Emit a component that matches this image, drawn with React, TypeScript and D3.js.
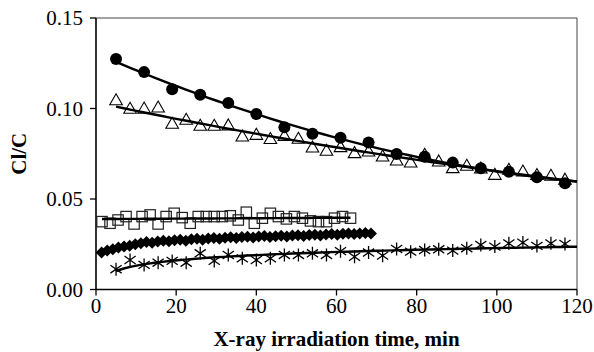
import React from "react";
import * as d3 from "d3";

const W = 594;
const H = 352;

const xTicks = [0, 20, 40, 60, 80, 100, 120];
const yTicks = [0, 0.05, 0.1, 0.15];

const circleT = [5, 12, 19, 26, 33, 40, 47, 54, 61, 68, 75, 82, 89, 96, 103, 110, 117];
const circleV = [0.1273, 0.1201, 0.1107, 0.1076, 0.103, 0.0969, 0.0897, 0.086, 0.0839, 0.0812, 0.0749, 0.0734, 0.0701, 0.067, 0.0651, 0.062, 0.0587];

const triT = [5, 8.5, 12, 15.5, 19, 22.5, 26, 29.5, 33, 36.5, 40, 43.5, 47, 50.5, 54, 57.5, 61, 64.5, 68, 71.5, 75, 78.5, 82, 85.5, 89, 92.5, 96, 99.5, 103, 106.5, 110, 113.5, 117];
const triV = [0.1045, 0.0998, 0.0999, 0.1005, 0.0915, 0.0937, 0.0904, 0.0904, 0.0906, 0.0845, 0.0854, 0.0831, 0.0848, 0.0832, 0.0784, 0.0766, 0.0786, 0.0753, 0.0762, 0.0734, 0.0712, 0.0701, 0.0744, 0.0707, 0.067, 0.0683, 0.0668, 0.0633, 0.0661, 0.0651, 0.0632, 0.0628, 0.0606];

const sqT = [1.5, 3.5, 5.5, 7.5, 9.5, 11.5, 13.5, 15.5, 17.5, 19.5, 21.5, 23.5, 25.5, 27.5, 29.5, 31.5, 33.5, 35.5, 37.5, 39.5, 41.5, 43.5, 45.5, 47.5, 49.5, 51.5, 53.5, 55.5, 57.5, 59.5, 61.5, 63.5];
const sqV = [0.0375, 0.0366, 0.0384, 0.0403, 0.0362, 0.0403, 0.0412, 0.0362, 0.0403, 0.0421, 0.0397, 0.0366, 0.0403, 0.0403, 0.0403, 0.0403, 0.0407, 0.0384, 0.0427, 0.0366, 0.0394, 0.0421, 0.0403, 0.039, 0.0403, 0.0394, 0.0379, 0.0375, 0.0375, 0.0394, 0.0403, 0.0394];

const diaT = [1.4, 2.8, 4.2, 5.6, 7.0, 8.4, 9.8, 11.2, 12.6, 14.0, 15.4, 16.8, 18.2, 19.6, 21.0, 22.4, 23.8, 25.2, 26.6, 28.0, 29.4, 30.8, 32.2, 33.6, 35.0, 36.4, 37.8, 39.2, 40.6, 42.0, 43.4, 44.8, 46.2, 47.6, 49.0, 50.4, 51.8, 53.2, 54.6, 56.0, 57.4, 58.8, 60.2, 61.6, 63.0, 64.4, 65.8, 67.2, 68.6];
const diaV = [0.0205, 0.0215, 0.0222, 0.0232, 0.0238, 0.0242, 0.025, 0.0256, 0.0262, 0.0258, 0.0265, 0.027, 0.0266, 0.0272, 0.0275, 0.027, 0.0277, 0.028, 0.0275, 0.0282, 0.0285, 0.028, 0.0286, 0.0289, 0.0284, 0.029, 0.0292, 0.0287, 0.0293, 0.0295, 0.029, 0.0294, 0.0297, 0.0293, 0.0298, 0.03, 0.0295, 0.0301, 0.0303, 0.0298, 0.0304, 0.0307, 0.0302, 0.0308, 0.031, 0.0306, 0.031, 0.0312, 0.0309];

const starT = [5, 8.5, 12, 15.5, 19, 22.5, 26, 29.5, 33, 36.5, 40, 43.5, 47, 50.5, 54, 57.5, 61, 64.5, 68, 71.5, 75, 78.5, 82, 85.5, 89, 92.5, 96, 99.5, 103, 106.5, 110, 113.5, 117];
const starV = [0.0112, 0.0163, 0.0136, 0.0148, 0.0158, 0.0148, 0.02, 0.0158, 0.0191, 0.0172, 0.0163, 0.0172, 0.0191, 0.0191, 0.02, 0.0191, 0.0212, 0.0181, 0.0204, 0.0187, 0.0224, 0.0209, 0.0218, 0.0222, 0.0215, 0.0228, 0.0246, 0.0237, 0.0255, 0.0259, 0.0241, 0.0255, 0.0252];

function linReg(xs: number[], ys: number[]) {
  const n = xs.length;
  const mx = d3.mean(xs) as number;
  const my = d3.mean(ys) as number;
  let sxy = 0, sxx = 0;
  for (let i = 0; i < n; i++) {
    sxy += (xs[i] - mx) * (ys[i] - my);
    sxx += (xs[i] - mx) * (xs[i] - mx);
  }
  const b = sxy / sxx;
  return { a: my - b * mx, b };
}

function quadFit(xs: number[], ys: number[]) {
  // least squares y = c0 + c1 x + c2 x^2 via normal equations
  const S = [0, 0, 0, 0, 0];
  const T = [0, 0, 0];
  xs.forEach((xv, i) => {
    for (let k = 0; k < 5; k++) S[k] += Math.pow(xv, k);
    for (let k = 0; k < 3; k++) T[k] += ys[i] * Math.pow(xv, k);
  });
  const A = [
    [S[0], S[1], S[2], T[0]],
    [S[1], S[2], S[3], T[1]],
    [S[2], S[3], S[4], T[2]],
  ];
  for (let c = 0; c < 3; c++) {
    for (let r = c + 1; r < 3; r++) {
      const f = A[r][c] / A[c][c];
      for (let k = c; k < 4; k++) A[r][k] -= f * A[c][k];
    }
  }
  const co = [0, 0, 0];
  for (let r = 2; r >= 0; r--) {
    let s = A[r][3];
    for (let k = r + 1; k < 3; k++) s -= A[r][k] * co[k];
    co[r] = s / A[r][r];
  }
  return (t: number) => co[0] + co[1] * t + co[2] * t * t;
}

function expFit(ts: number[], vs: number[]) {
  const r = linReg(ts, vs.map((v) => Math.log(v)));
  return (t: number) => Math.exp(r.a + r.b * t);
}
function lin(ts: number[], vs: number[]) {
  const r = linReg(ts, vs);
  return (t: number) => r.a + r.b * t;
}
function logFit(ts: number[], vs: number[]) {
  const r = linReg(ts.map((t) => Math.log(t)), vs);
  return (t: number) => r.a + r.b * Math.log(t);
}

export default function App() {
  const left = 96, right = 577, top = 18, bottom = 289.5;
  const x = d3.scaleLinear().domain([0, 120]).range([left, right]);
  const y = d3.scaleLinear().domain([0, 0.15]).range([bottom, top]);

  const fits = [
    { f: quadFit(circleT, circleV), t0: 5, t1: 120 },
    { f: expFit(triT, triV), t0: 5, t1: 120 },
    { f: lin(sqT, sqV), t0: sqT[0], t1: sqT[sqT.length - 1] },
    { f: logFit(starT, starV), t0: 5, t1: 120 },
  ];
  const line = d3
    .line<[number, number]>()
    .x((d) => x(d[0]))
    .y((d) => y(d[1]));

  const font = "'Liberation Serif', 'Times New Roman', serif";

  return (
    <svg width={W} height={H} style={{ position: "absolute", left: 0, top: 0 }} fontFamily={font}>
      <rect width={W} height={H} fill="white" />
      <line x1={left} x2={right} y1={top} y2={top} stroke="#444" strokeWidth={1} />
      <line x1={right} x2={right} y1={top} y2={bottom} stroke="#444" strokeWidth={1} />
      <line x1={left} x2={left} y1={top} y2={bottom} stroke="#000" strokeWidth={1.6} />
      <line x1={left} x2={right} y1={bottom} y2={bottom} stroke="#000" strokeWidth={1.6} />
      {yTicks.map((v) => (
        <g key={"y" + v}>
          <line x1={left - 6} x2={left} y1={y(v)} y2={y(v)} stroke="#000" strokeWidth={1.3} />
          <text x={left - 13} y={y(v)} dy="0.35em" textAnchor="end" fontSize={21}>
            {v.toFixed(2)}
          </text>
        </g>
      ))}
      {xTicks.map((v) => (
        <g key={"x" + v}>
          <line x1={x(v)} x2={x(v)} y1={bottom} y2={bottom + 6} stroke="#000" strokeWidth={1.3} />
          <text x={x(v)} y={313} textAnchor="middle" fontSize={21}>
            {v}
          </text>
        </g>
      ))}
      <text x={(left + right) / 2} y={346} textAnchor="middle" fontSize={21} fontWeight="bold">
        X-ray irradiation time, min
      </text>
      <text
        transform={`translate(26,${(top + bottom) / 2}) rotate(-90)`}
        textAnchor="middle"
        fontSize={21}
        fontWeight="bold"
      >
        Cl/C
      </text>

      {sqT.map((t, i) => (
        <rect key={"s" + i} x={x(t) - 5.2} y={y(sqV[i]) - 5.2} width={10.4} height={10.4} fill="none" stroke="#222" strokeWidth={1.2} />
      ))}
      {diaT.map((t, i) => {
        const cx = x(t), cy = y(diaV[i]), r = 6;
        return (
          <path key={"d" + i} d={`M${cx},${cy - r}L${cx + r},${cy}L${cx},${cy + r}L${cx - r},${cy}Z`} fill="#000" />
        );
      })}
      {starT.map((t, i) => {
        const cx = x(t), cy = y(starV[i]), r = 6.5, q = 5.6;
        return (
          <path
            key={"a" + i}
            d={`M${cx},${cy - r}L${cx},${cy + r}M${cx - q},${cy - q * 0.7}L${cx + q},${cy + q * 0.7}M${cx - q},${cy + q * 0.7}L${cx + q},${cy - q * 0.7}`}
            stroke="#000"
            strokeWidth={1.3}
            fill="none"
          />
        );
      })}
      {triT.map((t, i) => {
        const cx = x(t), cy = y(triV[i]), hw = 6.3, h = 11;
        return (
          <path
            key={"t" + i}
            d={`M${cx},${cy - h * 0.6}L${cx + hw},${cy + h * 0.4}L${cx - hw},${cy + h * 0.4}Z`}
            fill="white"
            stroke="#000"
            strokeWidth={1.1}
          />
        );
      })}
      {circleT.map((t, i) => (
        <circle key={"c" + i} cx={x(t)} cy={y(circleV[i])} r={6} fill="#000" />
      ))}
      {fits.map((ft, i) => {
        const pts: [number, number][] = d3.range(0, 61).map((k) => {
          const t = ft.t0 + ((ft.t1 - ft.t0) * k) / 60;
          return [t, ft.f(t)];
        });
        return <path key={"f" + i} d={line(pts) || ""} fill="none" stroke="#000" strokeWidth={2.4} />;
      })}
    </svg>
  );
}
